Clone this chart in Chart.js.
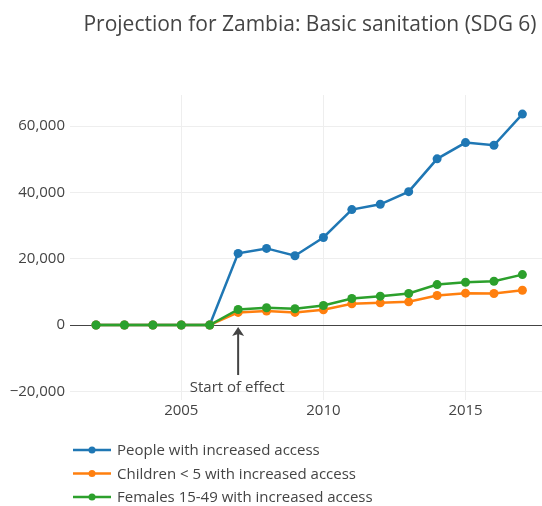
<!DOCTYPE html>
<html>
<head>
<meta charset="utf-8">
<script src="https://cdn.jsdelivr.net/npm/chart.js@4"></script>
<style>
  body { margin: 0; background: #fff; }
  canvas { display: block; }
</style>
</head>
<body>
<canvas id="projection" width="542" height="506"></canvas>
<script>
const years = [2002, 2003, 2004, 2005, 2006, 2007, 2008, 2009, 2010, 2011, 2012, 2013, 2014, 2015, 2016, 2017]
const people = [0, 0, 0, 0, 0, 21600, 23100, 20900, 26400, 34800, 36400, 40200, 50100, 55000, 54200, 63600]
const children = [0, 0, 0, 0, 0, 3800, 4200, 3800, 4600, 6400, 6700, 7000, 8900, 9600, 9500, 10500]
const females = [0, 0, 0, 0, 0, 4700, 5200, 4900, 5900, 8000, 8700, 9500, 12200, 12900, 13200, 15200]
const xTicks = [2005, 2010, 2015]
const yTicks = [-20000, 0, 20000, 40000, 60000]
const seriesNames = ['People with increased access', 'Children < 5 with increased access', 'Females 15-49 with increased access']
const effectYear = 2007

const colors = ['#1f77b4', '#ff7f0e', '#2ca02c']
const FONT = "'Open Sans', sans-serif"

Chart.defaults.font.family = FONT
Chart.defaults.font.size = 15
Chart.defaults.color = '#444'

function pts(values) {
  return years.map((y, i) => ({ x: y, y: values[i] }))
}

function fmt(v) {
  const s = Math.abs(v).toLocaleString('en-US')
  return v < 0 ? '\u2212' + s : s
}

// title, arrow annotation and vertical legend, plotly style
const extras = {
  id: 'extras',
  afterDatasetsDraw(chart) {
    const ctx = chart.ctx
    const xs = chart.scales.x, ys = chart.scales.y
    const ax = xs.getPixelForValue(effectYear)
    const y0 = ys.getPixelForValue(0)
    ctx.save()
    ctx.strokeStyle = '#444'
    ctx.fillStyle = '#444'
    ctx.lineWidth = 2
    ctx.beginPath()
    ctx.moveTo(ax, y0 + 50)
    ctx.lineTo(ax, y0 + 8)
    ctx.stroke()
    ctx.beginPath()
    ctx.moveTo(ax, y0 + 2)
    ctx.lineTo(ax - 6, y0 + 11)
    ctx.lineTo(ax, y0 + 9)
    ctx.lineTo(ax + 6, y0 + 11)
    ctx.closePath()
    ctx.fill()
    ctx.font = '15px ' + FONT
    ctx.textAlign = 'center'
    ctx.textBaseline = 'middle'
    ctx.fillText('Start of effect', ax - 1, y0 + 63)
    ctx.restore()
  },
  afterDraw(chart) {
    const ctx = chart.ctx
    ctx.save()
    ctx.fillStyle = '#444'
    ctx.font = '21px ' + FONT
    ctx.textAlign = 'center'
    ctx.textBaseline = 'middle'
    ctx.fillText('Projection for Zambia: Basic sanitation (SDG 6)', 310, 25)

    ctx.font = '15px ' + FONT
    ctx.textAlign = 'left'
    seriesNames.forEach((name, i) => {
      const y = 450 + i * 23.5
      ctx.strokeStyle = colors[i]
      ctx.lineWidth = 2.5
      ctx.beginPath()
      ctx.moveTo(73, y)
      ctx.lineTo(111, y)
      ctx.stroke()
      ctx.fillStyle = colors[i]
      ctx.beginPath()
      ctx.arc(92, y, 3.5, 0, Math.PI * 2)
      ctx.fill()
      ctx.fillStyle = '#444'
      ctx.fillText(name, 117, y + 1)
    })
    ctx.restore()
  }
}

function makeSet(label, values, i, order) {
  return {
    label: label,
    data: pts(values),
    borderColor: colors[i],
    backgroundColor: colors[i],
    borderWidth: 2.5,
    pointRadius: 4.5,
    pointHoverRadius: 4.5,
    pointBorderWidth: 0,
    order: order
  }
}

new Chart(document.getElementById('projection'), {
  type: 'line',
  data: {
    datasets: [
      makeSet(seriesNames[0], people, 0, 2),
      makeSet(seriesNames[1], children, 1, 1),
      makeSet(seriesNames[2], females, 2, 0)
    ]
  },
  options: {
    responsive: false,
    animation: false,
    layout: { autoPadding: false, padding: { top: 95, left: 0, right: 0, bottom: 84 } },
    plugins: {
      legend: { display: false },
      title: { display: false },
      tooltip: { enabled: false }
    },
    scales: {
      x: {
        type: 'linear',
        min: 2001.085,
        max: 2017.69,
        afterBuildTicks: s => { s.ticks = xTicks.map(v => ({ value: v })) },
        afterFit: s => { s.height = 22 },
        ticks: { padding: 2, callback: v => String(v), maxRotation: 0 },
        grid: { color: '#eee', drawTicks: false },
        border: { display: false }
      },
      y: {
        min: -22600,
        max: 69350,
        afterBuildTicks: s => { s.ticks = yTicks.map(v => ({ value: v })) },
        afterFit: s => { s.width = 70 },
        ticks: { padding: 5, callback: v => fmt(v) },
        grid: {
          drawTicks: false,
          color: c => (c.tick && c.tick.value === 0) ? '#444' : '#eee'
        },
        border: { display: false }
      }
    }
  },
  plugins: [extras]
});
</script>
</body>
</html>
